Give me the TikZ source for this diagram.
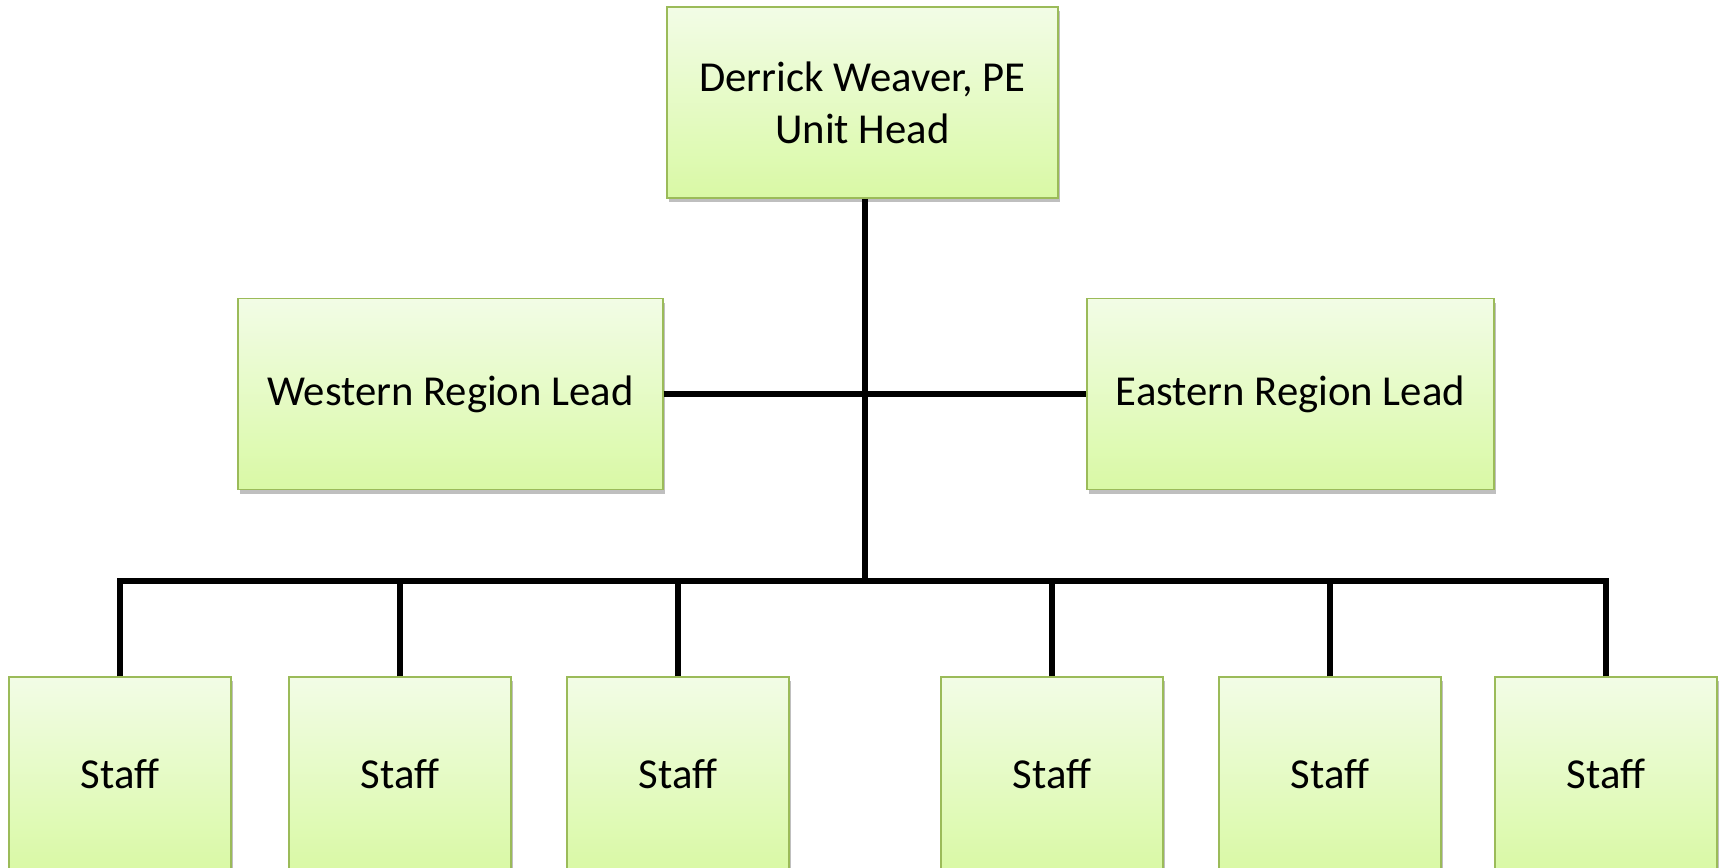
\documentclass[tikz,border=0pt]{standalone}
\usepackage{fontspec}
\setmainfont{Carlito}
\usetikzlibrary{shadows}
\definecolor{haut}{HTML}{F2FCE6}
\definecolor{bas}{HTML}{D9F9A5}
\definecolor{bord}{HTML}{9BBB59}

\begin{document}
\begin{tikzpicture}[x=0.02cm, y=-0.02cm]
  \tikzstyle{poste}=[rectangle, draw=bord, line width=0.8pt, top color=haut, bottom color=bas,
    minimum height=3.82cm, align=center, inner sep=0,
    font=\fontsize{24.3}{29.6}\selectfont,
    drop shadow={shadow xshift=1pt, shadow yshift=-2.5pt, fill=black, opacity=0.25}];
  \tikzstyle{lien}=[line width=3.3pt, black];

  \useasboundingbox (0,0) rectangle (1721,868);

  \coordinate (H) at (862.5,102.5);
  \coordinate (W) at (450.5,394);
  \coordinate (E) at (1290.5,394);
  \coordinate (bus) at (865,581);

  \node[poste, minimum width=7.82cm] (chef) at (H) {Derrick Weaver, PE\\Unit Head};
  \node[poste, minimum width=8.5cm] (ouest) at (W) {Western Region Lead};
  \node[poste, minimum width=8.14cm] (est) at (E) {Eastern Region Lead};
  \foreach \i/\x in {1/120, 2/400, 3/678, 4/1052, 5/1330, 6/1606}
    \node[poste, minimum width=4.44cm, minimum height=3.88cm] (s\i) at (\x,774) {Staff};

  \draw[lien] (chef.south -| bus) -- (bus);
  \draw[lien] (ouest.east) -- (ouest.east -| bus);
  \draw[lien] (est.west -| bus) -- (est.west);
  \foreach \i in {1,...,6}
    \draw[lien] (s\i.north) |- (bus);
\end{tikzpicture}
\end{document}
